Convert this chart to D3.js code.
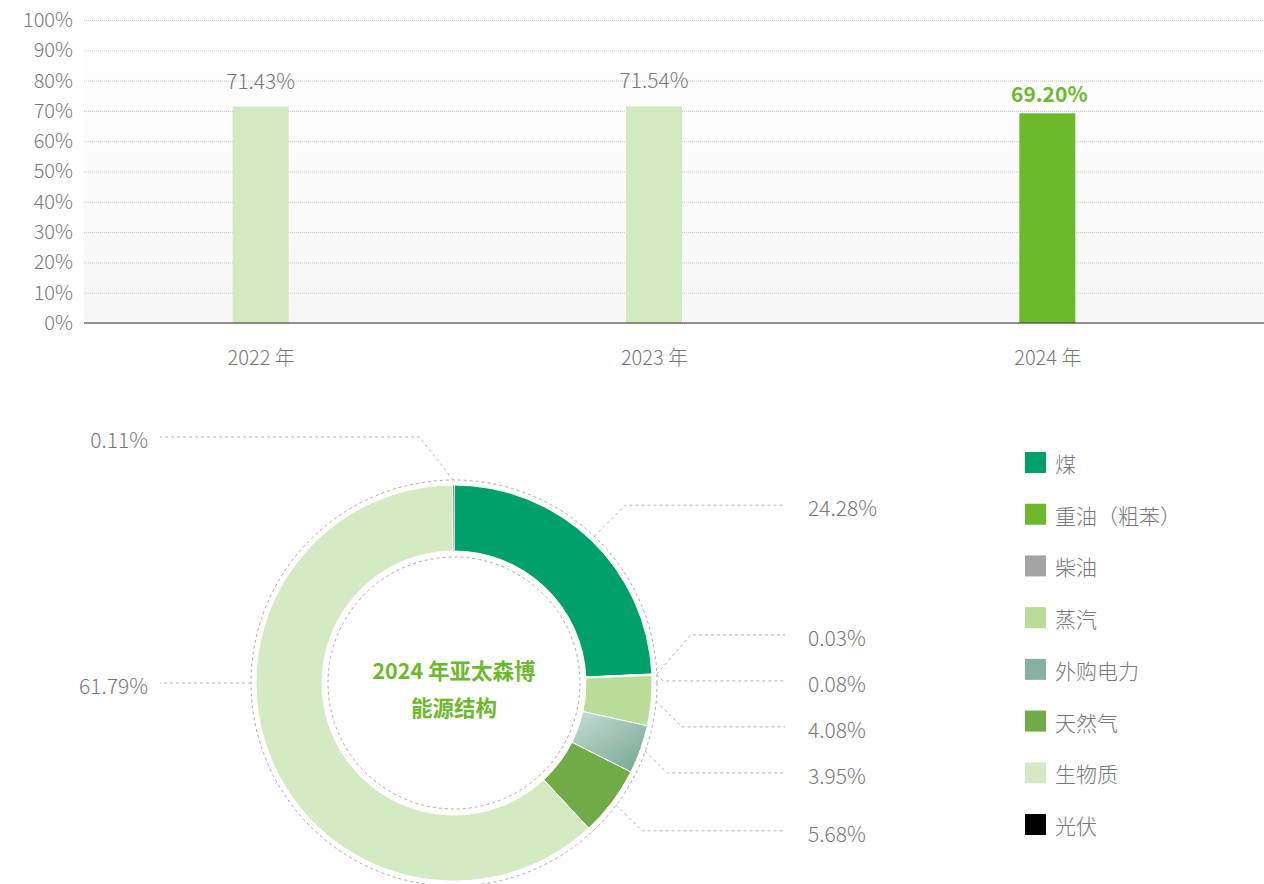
<!DOCTYPE html>
<html>
<head>
<meta charset="utf-8">
<script src="https://cdn.jsdelivr.net/npm/d3@7"></script>
<style>
  body { margin: 0; background: #fff; }
  svg { display: block; }
  svg text { font-family: "Noto Sans CJK SC", "Noto Sans", sans-serif; }
</style>
</head>
<body>
<svg id="chart" width="1264" height="884"></svg>
<script>
// bar chart data
const years = ['2022 年', '2023 年', '2024 年'];
const shares = [71.43, 71.54, 69.20];
const yTicks = [0, 10, 20, 30, 40, 50, 60, 70, 80, 90, 100];

// donut data
const sources = ['煤', '重油（粗苯）', '柴油', '蒸汽', '外购电力', '天然气', '生物质', '光伏'];
const mix = [24.28, 0.03, 0.08, 4.08, 3.95, 5.68, 61.79, 0.11];
const title = ['2024 年亚太森博', '能源结构'];

const colors = ['#00a06b', '#6db92c', '#a4a4a4', '#b9dd98', 'url(#elec)', '#71ab47', '#d4eac3', '#000000'];
const legendColors = ['#00a06b', '#6db92c', '#a4a4a4', '#b9dd98', '#86b1a1', '#71ab47', '#d4eac3', '#000000'];
const green = '#6db92c';
const textGrey = '#777';

const svg = d3.select('#chart');
const defs = svg.append('defs');

const bg = defs.append('linearGradient').attr('id', 'plotbg')
    .attr('x1', 0).attr('y1', 0).attr('x2', 0).attr('y2', 1);
bg.append('stop').attr('offset', '0%').attr('stop-color', '#ffffff');
bg.append('stop').attr('offset', '100%').attr('stop-color', '#f6f6f6');

// ---------- bar chart ----------
const plot = {left: 84, right: 1264, top: 20, bottom: 323};

const y = d3.scaleLinear().domain([0, 100]).range([plot.bottom, plot.top]);
const x = d3.scalePoint().domain(years).range([64, 1244]).padding(0.5);
const barW = 56;

svg.append('rect')
    .attr('x', plot.left).attr('y', plot.top)
    .attr('width', plot.right - plot.left).attr('height', plot.bottom - plot.top)
    .attr('fill', 'url(#plotbg)');

const yAxis = svg.append('g')
    .attr('transform', `translate(${plot.left},0)`)
    .call(d3.axisLeft(y).tickValues(yTicks).tickFormat(d => d + '%')
        .tickSize(-(plot.right - plot.left)).tickPadding(11));
yAxis.select('.domain').remove();
yAxis.selectAll('.tick line')
    .attr('stroke', '#c8c8c8').attr('stroke-dasharray', '1,1');
yAxis.selectAll('.tick text')
    .attr('fill', textGrey).style('font-size', '20px').style('font-weight', 300);

svg.selectAll('.bar')
    .data(shares)
    .join('rect')
    .attr('class', 'bar')
    .attr('x', (d, i) => x(years[i]) - barW / 2)
    .attr('y', d => y(d))
    .attr('width', barW)
    .attr('height', d => y(0) - y(d))
    .attr('fill', (d, i) => i === shares.length - 1 ? green : '#d3eac1');

svg.selectAll('.bar-label')
    .data(shares)
    .join('text')
    .attr('class', 'bar-label')
    .attr('x', (d, i) => x(years[i]) + (i === shares.length - 1 ? 2 : 0))
    .attr('y', (d, i) => y(d) - (i === shares.length - 1 ? 20 : 27))
    .attr('text-anchor', 'middle')
    .attr('dominant-baseline', 'central')
    .attr('fill', (d, i) => i === shares.length - 1 ? green : textGrey)
    .style('font-size', '21px')
    .style('font-weight', (d, i) => i === shares.length - 1 ? 700 : 300)
    .text(d => d.toFixed(2) + '%');

svg.append('line')
    .attr('x1', plot.left).attr('x2', plot.right)
    .attr('y1', y(0)).attr('y2', y(0))
    .attr('stroke', '#333').attr('stroke-width', 1.2);

const xAxis = svg.append('g')
    .attr('transform', `translate(0,${plot.bottom})`)
    .call(d3.axisBottom(x).tickSize(0).tickPadding(28));
xAxis.select('.domain').remove();
xAxis.selectAll('.tick text')
    .attr('fill', textGrey).style('font-size', '20px').style('font-weight', 300);

// ---------- donut ----------
const cx = 454, cy = 683;
const rOuter = 198, rInner = 132;
const ringOuter = 203, ringInner = 126;

const pie = d3.pie().sort(null).value(d => d);
const arcs = pie(mix);
const arc = d3.arc().innerRadius(rInner).outerRadius(rOuter);

// shaded fill for the purchased-electricity slice, light on the inner edge
// (coordinates are relative to the donut centre, where the paths live)
const elecArc = arcs[4];
const elecMid = (elecArc.startAngle + elecArc.endAngle) / 2;
const elec = defs.append('linearGradient').attr('id', 'elec')
    .attr('gradientUnits', 'userSpaceOnUse')
    .attr('x1', rInner * Math.sin(elecMid - 0.25)).attr('y1', -rInner * Math.cos(elecMid - 0.25))
    .attr('x2', rOuter * Math.sin(elecMid + 0.1)).attr('y2', -rOuter * Math.cos(elecMid + 0.1));
elec.append('stop').attr('offset', '0%').attr('stop-color', '#cde1da');
elec.append('stop').attr('offset', '100%').attr('stop-color', '#7eab99');

const donut = svg.append('g').attr('transform', `translate(${cx},${cy})`);

donut.selectAll('path')
    .data(arcs)
    .join('path')
    .attr('d', arc)
    .attr('fill', (d, i) => colors[i])
    .attr('stroke', '#fff')
    .attr('stroke-width', 1);

[ringOuter, ringInner].forEach(r => {
  donut.append('circle')
      .attr('r', r)
      .attr('fill', 'none')
      .attr('stroke', '#aaa')
      .attr('stroke-width', 1)
      .attr('stroke-dasharray', '3,3');
});

donut.selectAll('.title')
    .data(title)
    .join('text')
    .attr('class', 'title')
    .attr('x', 0)
    .attr('y', (d, i) => -14 + i * 37)
    .attr('text-anchor', 'middle')
    .attr('dominant-baseline', 'central')
    .attr('fill', green)
    .style('font-size', '21.5px')
    .style('font-weight', 700)
    .text(d => d);

// label anchors: mid angle, except very wide slices use their horizontal extreme
const labelR = 246;
const labels = arcs.map((d, i) => {
  let a = (d.startAngle + d.endAngle) / 2;
  if (d.endAngle - d.startAngle > Math.PI) {
    [Math.PI / 2, Math.PI * 1.5].forEach(h => {
      if (h > d.startAngle && h < d.endAngle) a = h;
    });
  }
  const side = Math.sin(a) >= 0 ? 1 : -1;
  return {
    i, a, side,
    ax: ringOuter * Math.sin(a),
    ay: -ringOuter * Math.cos(a),
    y0: -labelR * Math.cos(a)
  };
});

// push overlapping labels apart on each side
function spread(items, gap) {
  items.sort((a, b) => a.y0 - b.y0);
  let groups = items.map(d => ({members: [d], mean: d.y0}));
  let merged = true;
  while (merged) {
    merged = false;
    for (let k = 0; k < groups.length - 1; k++) {
      const g1 = groups[k], g2 = groups[k + 1];
      const end1 = g1.mean + (g1.members.length - 1) * gap / 2;
      const start2 = g2.mean - (g2.members.length - 1) * gap / 2;
      if (start2 - end1 < gap) {
        const members = g1.members.concat(g2.members);
        groups.splice(k, 2, {members, mean: d3.mean(members, m => m.y0)});
        merged = true;
        break;
      }
    }
  }
  groups.forEach(g => {
    const top = g.mean - (g.members.length - 1) * gap / 2;
    g.members.forEach((m, j) => { m.ly = top + j * gap; });
  });
}
spread(labels.filter(d => d.side > 0), 46);
spread(labels.filter(d => d.side < 0), 46);

const lineEndR = 785 - cx, lineEndL = 160 - cx;
donut.selectAll('.leader')
    .data(labels)
    .join('polyline')
    .attr('class', 'leader')
    .attr('points', d => {
      const dy = Math.abs(d.ly - d.ay);
      const ex = d.ax + d.side * Math.min(34, dy);
      const end = d.side > 0 ? lineEndR : lineEndL;
      return [[d.ax, d.ay], [ex, d.ly], [end, d.ly]].map(p => p.join(',')).join(' ');
    })
    .attr('fill', 'none')
    .attr('stroke', '#b4b4b4')
    .attr('stroke-width', 1)
    .attr('stroke-dasharray', '3,3');

donut.selectAll('.pct')
    .data(labels)
    .join('text')
    .attr('class', 'pct')
    .attr('x', d => d.side > 0 ? 808 - cx : 148 - cx)
    .attr('y', d => d.ly + 2)
    .attr('text-anchor', d => d.side > 0 ? 'start' : 'end')
    .attr('dominant-baseline', 'central')
    .attr('fill', textGrey)
    .style('font-size', '21px')
    .style('font-weight', 300)
    .text(d => mix[d.i].toFixed(2) + '%');

// legend
const ly = d3.scalePoint().domain(sources).range([462, 824]);
const legend = svg.append('g');
const item = legend.selectAll('g')
    .data(sources)
    .join('g')
    .attr('transform', d => `translate(1025,${ly(d)})`);
item.append('rect')
    .attr('x', 0).attr('y', -10)
    .attr('width', 21).attr('height', 21)
    .attr('fill', (d, i) => legendColors[i]);
item.append('text')
    .attr('x', 30).attr('y', 1)
    .attr('dominant-baseline', 'central')
    .attr('fill', textGrey)
    .style('font-size', '21px')
    .style('font-weight', 300)
    .text(d => d);
</script>
</body>
</html>
